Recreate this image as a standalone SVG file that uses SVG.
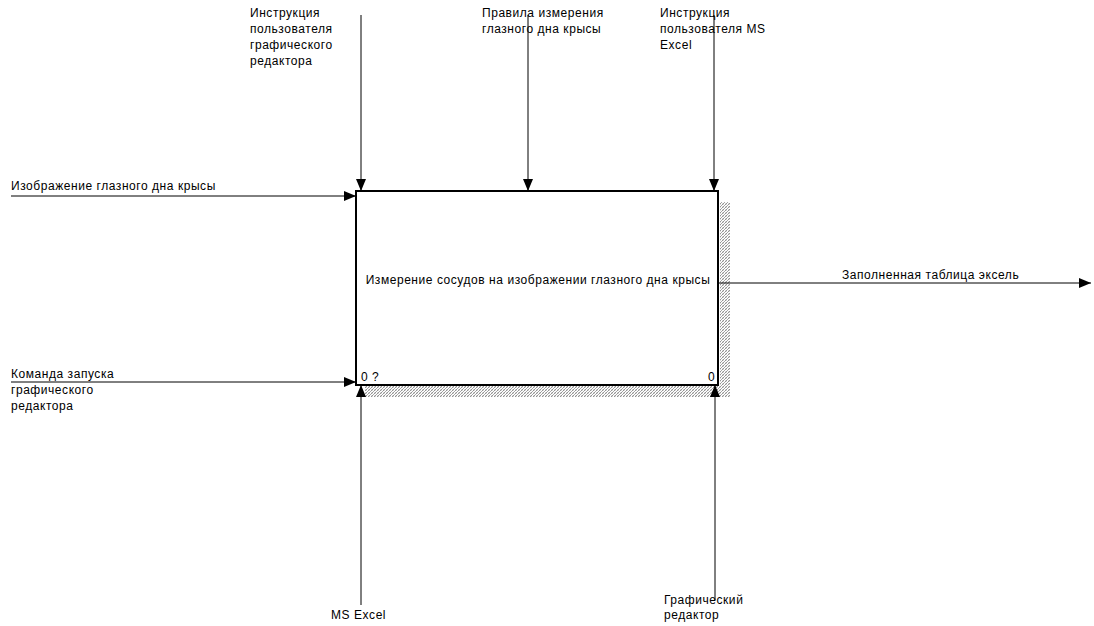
<svg xmlns="http://www.w3.org/2000/svg" width="1094" height="626" viewBox="0 0 1094 626">
  <defs>
    <marker id="arrow" viewBox="0 0 12 10" refX="12" refY="5" markerWidth="12" markerHeight="10" markerUnits="userSpaceOnUse" orient="auto">
      <path d="M0,0 L12,5 L0,10 z" fill="#000"/>
    </marker>
    <pattern id="hatch" width="3" height="3" patternUnits="userSpaceOnUse">
      <rect width="3" height="3" fill="#fff"/>
      <path d="M0,3 L3,0" stroke="#777" stroke-width="0.8"/>
      <path d="M0,0 L3,3" stroke="#bbb" stroke-width="0.5"/>
    </pattern>
    <style>
      .lbl { font-family: "Liberation Sans", Arial, sans-serif; font-size: 12px; letter-spacing: 0.55px; fill: #000; }
      .arc { fill: none; stroke: #000; stroke-width: 1; marker-end: url(#arrow); }
      .box { fill: #fff; stroke: #000; stroke-width: 2; }
    </style>
  </defs>
  <rect width="1094" height="626" fill="#fff"/>

  <!-- activity box -->
  <g id="activity-A0">
    <rect x="720" y="202" width="10" height="195" fill="url(#hatch)"/>
    <rect x="365" y="386" width="365" height="11" fill="url(#hatch)"/>
    <rect class="box" x="356" y="191" width="362" height="194"/>
    <text class="lbl" x="538" y="284" text-anchor="middle">Измерение сосудов на изображении глазного дна крысы</text>
    <text class="lbl" x="361" y="381">0 ?</text>
    <text class="lbl" x="708" y="381">0</text>
  </g>

  <!-- connectors -->
  <g id="connectors">
    <path class="arc" d="M11,196 H356"/>
    <path class="arc" d="M11,382 H356"/>
    <path class="arc" d="M361,15 V191"/>
    <path class="arc" d="M528,15 V191"/>
    <path class="arc" d="M714,15 V191"/>
    <path class="arc" d="M361,605 V385"/>
    <path class="arc" d="M715,600 V385"/>
    <path class="arc" d="M719,283 H1091"/>
  </g>

  <!-- arrow labels -->
  <g id="label-input-image">
    <text class="lbl" x="11" y="190">Изображение глазного дна крысы</text>
  </g>
  <g id="label-input-command">
    <text class="lbl" x="11" y="378">Команда запуска</text>
    <text class="lbl" x="11" y="394">графического</text>
    <text class="lbl" x="11" y="410">редактора</text>
  </g>
  <g id="label-control-editor-manual">
    <text class="lbl" x="250" y="17">Инструкция</text>
    <text class="lbl" x="250" y="33">пользователя</text>
    <text class="lbl" x="250" y="49">графического</text>
    <text class="lbl" x="250" y="65">редактора</text>
  </g>
  <g id="label-control-rules">
    <text class="lbl" x="482" y="17">Правила измерения</text>
    <text class="lbl" x="482" y="33">глазного дна крысы</text>
  </g>
  <g id="label-control-excel-manual">
    <text class="lbl" x="660" y="17">Инструкция</text>
    <text class="lbl" x="660" y="33">пользователя MS</text>
    <text class="lbl" x="660" y="49">Excel</text>
  </g>
  <g id="label-output-table">
    <text class="lbl" x="842" y="279">Заполненная таблица эксель</text>
  </g>
  <g id="label-mechanism-excel">
    <text class="lbl" x="331" y="619">MS Excel</text>
  </g>
  <g id="label-mechanism-editor">
    <text class="lbl" x="664" y="604">Графический</text>
    <text class="lbl" x="664" y="619">редактор</text>
  </g>
</svg>
